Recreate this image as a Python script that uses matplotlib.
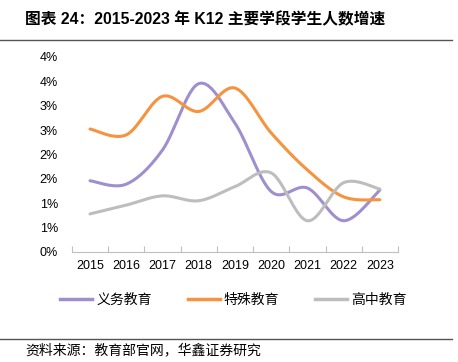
import numpy as np
import matplotlib
matplotlib.use("Agg")
import matplotlib.pyplot as plt
from matplotlib.lines import Line2D

plt.rcParams['font.family'] = ['Liberation Sans', 'Noto Sans CJK SC', 'DejaVu Sans']

years = ['2015', '2016', '2017', '2018', '2019', '2020', '2021', '2022', '2023']
# 增速 (%)
yiwu = [1.46, 1.39, 2.09, 3.45, 2.64, 1.24, 1.31, 0.64, 1.27]
teshu = [2.52, 2.40, 3.19, 2.88, 3.36, 2.44, 1.68, 1.13, 1.07]
gaozhong = [0.78, 0.96, 1.15, 1.05, 1.34, 1.62, 0.64, 1.42, 1.29]

series_names = ['义务教育', '特殊教育', '高中教育']
colors = ['#9E8FCE', '#F7923E', '#BDBDBD']

y_ticks = [0, 0.5, 1, 1.5, 2, 2.5, 3, 3.5, 4]
y_labels = ['0%', '1%', '1%', '2%', '2%', '3%', '3%', '4%', '4%']


def smooth(x, y, n=30):
    # Catmull-Rom, как сглаженная линия в Excel
    x = np.asarray(x, float)
    y = np.asarray(y, float)
    px = np.concatenate([[x[0]], x, [x[-1]]])
    py = np.concatenate([[y[0]], y, [y[-1]]])
    xs, ys = [], []
    t = np.linspace(0, 1, n)
    for i in range(1, len(px) - 2):
        for p, out in ((px, xs), (py, ys)):
            p0, p1, p2, p3 = p[i - 1], p[i], p[i + 1], p[i + 2]
            m1 = (p2 - p0) / 2
            m2 = (p3 - p1) / 2
            h00 = 2 * t**3 - 3 * t**2 + 1
            h10 = t**3 - 2 * t**2 + t
            h01 = -2 * t**3 + 3 * t**2
            h11 = t**3 - t**2
            out.extend(h00 * p1 + h10 * m1 + h01 * p2 + h11 * m2)
    return np.array(xs), np.array(ys)


fig = plt.figure(figsize=(4.58, 3.62), dpi=100)
ax = fig.add_axes([0.157, 0.304, 0.712, 0.539])

x = np.arange(len(years))
for vals, c in zip([yiwu, teshu, gaozhong], colors):
    sx, sy = smooth(x, vals)
    ax.plot(sx, sy, color=c, lw=2.2, solid_capstyle='round')

ax.set_xlim(-0.5, len(years) - 0.5)
ax.set_ylim(0, 4)
ax.set_yticks(y_ticks)
ax.set_yticklabels(y_labels)
ax.set_xticks(x)
ax.set_xticklabels(years)
ax.set_xticks(np.arange(-0.5, len(years), 1), minor=True)
ax.tick_params(axis='x', which='major', length=0, pad=6, labelsize=9)
ax.tick_params(axis='x', which='minor', direction='in', length=4, color='#BFBFBF', width=0.8)
ax.tick_params(axis='y', length=0, pad=10, labelsize=9)
for s in ['top', 'right', 'left']:
    ax.spines[s].set_visible(False)
ax.spines['bottom'].set_color('#BFBFBF')
ax.spines['bottom'].set_linewidth(0.8)

handles = [Line2D([], [], color=c, lw=2.5) for c in colors]
fig.legend(handles, series_names, loc='center', bbox_to_anchor=(0.51, 0.172), ncol=3,
           frameon=False, fontsize=10, handlelength=2.3, handletextpad=0.3, columnspacing=2.6)

fig.text(0.055, 0.945, '图表 24：2015-2023 年 K12 主要学段学生人数增速', fontsize=11.3,
         fontweight='bold', va='center', ha='left')
fig.add_artist(Line2D([0.0, 0.987], [0.889, 0.889], color='#555555', lw=1.0))
fig.add_artist(Line2D([0.0, 0.987], [0.064, 0.064], color='#555555', lw=1.0))
fig.text(0.055, 0.033, '资料来源：教育部官网，华鑫证券研究', fontsize=10, va='center', ha='left')

fig.savefig('out.png', dpi=100)
